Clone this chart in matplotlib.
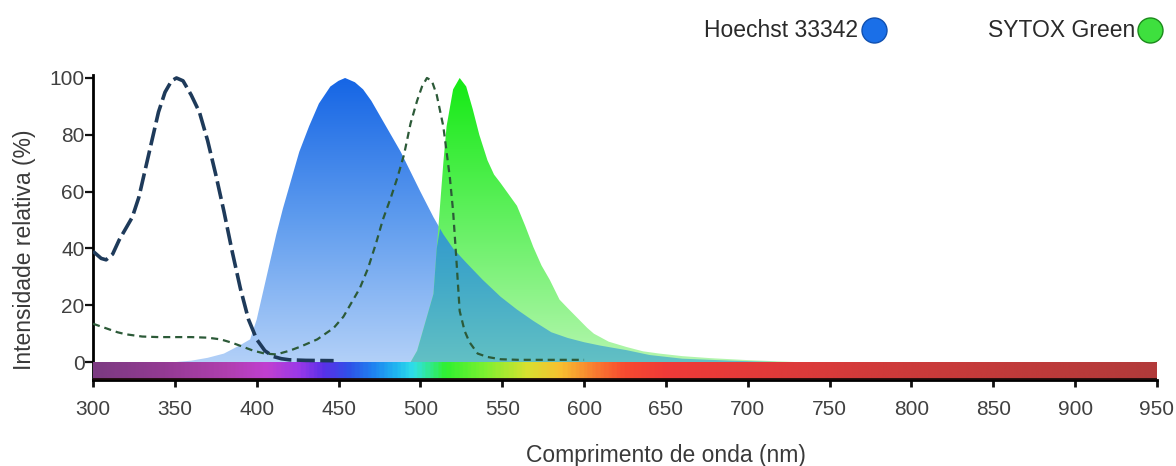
import numpy as np
import matplotlib
matplotlib.use("Agg")
import matplotlib.pyplot as plt
from matplotlib.colors import LinearSegmentedColormap
from matplotlib.lines import Line2D

plt.rcParams['font.family'] = ['Liberation Sans', 'DejaVu Sans']

# Hoechst 33342 excitation (dashed) and emission (filled)
hoechst_ex_wl = np.array([300, 305, 308, 312, 316, 320, 324, 328, 332, 336, 340, 344, 348, 351,
                          355, 360, 365, 370, 375, 380, 385, 390, 395, 400, 405, 410, 415, 420,
                          430, 447])
hoechst_ex = np.array([39, 36.5, 36, 38, 43, 47, 51, 58, 68, 78, 88, 95, 99, 100,
                       99, 94, 88, 78, 66, 53, 39, 26, 15, 8, 4, 2, 1.2, 0.8,
                       0.6, 0.5])

hoechst_em_wl = np.array([350, 360, 370, 380, 390, 396, 400, 404, 408, 412, 416, 420, 426, 432,
                          438, 445, 450, 454, 460, 465, 470, 477, 483, 488, 494, 500, 508, 514,
                          520, 528, 538, 549, 559, 569, 580, 590, 600, 610, 626, 640, 660, 690,
                          720])
hoechst_em = np.array([0, 0.5, 1.5, 3, 6, 8, 15, 25, 35, 45, 54, 62, 74, 83,
                       91, 97, 99, 100, 98.5, 96, 92, 85, 79, 74, 67, 60, 51, 45,
                       40, 35, 29, 23, 18.5, 14.5, 10.5, 8.5, 7, 5.8, 4.2, 2.5, 1.2, 0.5,
                       0])

# SYTOX Green excitation (dashed) and emission (filled)
sytox_ex_wl = np.array([300, 305, 310, 315, 320, 330, 340, 350, 360, 370, 378, 385, 392, 398,
                        405, 412, 420, 427, 437, 447, 453, 458, 463, 468, 473, 477, 482, 486,
                        490, 494, 498, 501, 504, 507, 510, 514, 518, 520, 522, 524, 527, 530,
                        535, 541, 549, 560, 580, 600])
sytox_ex = np.array([13.5, 12.5, 11.5, 10.5, 9.8, 9, 8.8, 8.8, 8.8, 8.6, 8, 6.8, 5.3, 4,
                     3, 2.7, 4, 5.5, 8, 12, 16, 21, 26, 33, 42, 50, 58, 65,
                     73, 84, 92, 97, 100, 99, 94, 83, 65, 53, 36, 18, 11, 7,
                     3, 1.8, 1, 0.8, 0.8, 0.8])

sytox_em_wl = np.array([494, 498, 502, 505, 508, 510, 512, 514, 516, 520, 524, 528, 532, 536,
                        541, 545, 549, 554, 559, 564, 569, 574, 579, 585, 590, 596, 602, 606,
                        615, 626, 636, 646, 660, 677, 700, 730])
sytox_em = np.array([0, 4, 12, 18, 24, 40, 55, 70, 83, 96, 100, 97, 89, 80,
                     71, 66, 63, 59, 55, 48, 40.5, 34, 29, 22, 19, 15.5, 12, 10,
                     7.2, 5.3, 3.8, 3, 2.1, 1.4, 0.7, 0])

# colour stops of the wavelength bar under the curves
bar_wl = [300, 340, 380, 405, 425, 440, 455, 470, 485, 495, 505, 515, 540, 565,
          585, 605, 625, 650, 720, 800, 950]
bar_colors = ['#7d3a82', '#933a92', '#b03fae', '#c040d0', '#9a38e8', '#5a30e8', '#3050e8',
              '#2080f0', '#20b8f0', '#30e0e8', '#30e890', '#30f030', '#80f030', '#d8e030',
              '#f8c030', '#f88030', '#f84a30', '#f03a38', '#e03a3a', '#cc3a3a', '#b23a3a']

YMIN, YMAX = -6.3, 102
W, H = 1176, 466

fig = plt.figure(figsize=(W / 100, H / 100), dpi=100)
ax = fig.add_axes([93 / W, 86 / H, 1064 / W, 307.7 / H])


def gradient_fill(x, y, stops, top=100, zorder=1):
    poly = ax.fill_between(x, 0, y, color='none', lw=0)
    path = poly.get_paths()[0]
    cmap = LinearSegmentedColormap.from_list('g', stops)
    grad = np.linspace(0, 1, 256).reshape(-1, 1)
    im = ax.imshow(grad, extent=(x.min(), x.max(), 0, top), origin='lower',
                   cmap=cmap, aspect='auto', zorder=zorder, interpolation='bilinear')
    im.set_clip_path(path, transform=ax.transData)
    return im


gradient_fill(hoechst_em_wl, hoechst_em, ['#b2d0f8', '#5f9cee', '#1565e5'], zorder=1)
gradient_fill(sytox_em_wl, sytox_em, ['#b4f6ae', '#62f060', '#14ea14'], zorder=2)

# region where both emission spectra overlap
grid = np.union1d(hoechst_em_wl, sytox_em_wl)
overlap = np.minimum(np.interp(grid, hoechst_em_wl, hoechst_em),
                     np.interp(grid, sytox_em_wl, sytox_em))
gradient_fill(grid, overlap, ['#62c0c4', '#40a8c8', '#2a8ed2'], top=60, zorder=3)

ax.plot(hoechst_ex_wl, hoechst_ex, color='#1e3a5a', lw=2.6, dashes=(5, 1.5), zorder=5)
ax.plot(sytox_ex_wl, sytox_ex, color='#2c5a38', lw=1.6, dashes=(3.2, 2.2), zorder=5)

# wavelength colour bar
pos = [(w - 300) / 650 for w in bar_wl]
bar_cmap = LinearSegmentedColormap.from_list('spec', list(zip(pos, bar_colors)))
ax.imshow(np.linspace(0, 1, 650).reshape(1, -1), extent=(300, 950, YMIN, 0),
          cmap=bar_cmap, aspect='auto', zorder=4, interpolation='bilinear')
ax.axhline(YMIN + 0.5, color='#1a0a0a', lw=2, zorder=4)

ax.set_xlim(300, 950)
ax.set_ylim(YMIN, YMAX)
ax.set_xticks(np.arange(300, 951, 50))
ax.set_yticks(np.arange(0, 101, 20))

for s in ['top', 'right']:
    ax.spines[s].set_visible(False)
ax.spines['left'].set_bounds(YMIN, 101)
ax.spines['left'].set_linewidth(2)
ax.spines['bottom'].set_linewidth(2)
ax.tick_params(axis='x', length=5, width=2, pad=9.5, labelsize=15, colors='#111',
               labelcolor='#404040')
ax.tick_params(axis='y', length=5.5, width=1.6, pad=0.5, labelsize=15, colors='#111',
               labelcolor='#404040')

# axis titles
fig.text(666 / W, 1 - 462 / H, 'Comprimento de onda (nm)', ha='center', va='baseline',
         fontsize=16.5, color='#3a3a3a')
fig.text(25 / W, 1 - 250 / H, 'Intensidade relativa (%)', ha='center', va='center',
         rotation=90, fontsize=16.5, color='#3a3a3a')

# legend at the top right
ly = 1 - 37 / H
cy = 1 - 29.5 / H
fig.text(858 / W, ly, 'Hoechst 33342', ha='right', va='baseline',
         fontsize=16.5, color='#2a2a2a')
fig.text(1135 / W, ly, 'SYTOX Green', ha='right', va='baseline',
         fontsize=16.5, color='#2a2a2a')
fig.add_artist(Line2D([874 / W], [cy], marker='o', ms=18,
                      mfc='#1a6fe8', mec='#1050b0', mew=1, transform=fig.transFigure))
fig.add_artist(Line2D([1150 / W], [cy], marker='o', ms=18,
                      mfc='#3ee03e', mec='#1c8a1c', mew=1, transform=fig.transFigure))

fig.savefig('out.png', dpi=100)
